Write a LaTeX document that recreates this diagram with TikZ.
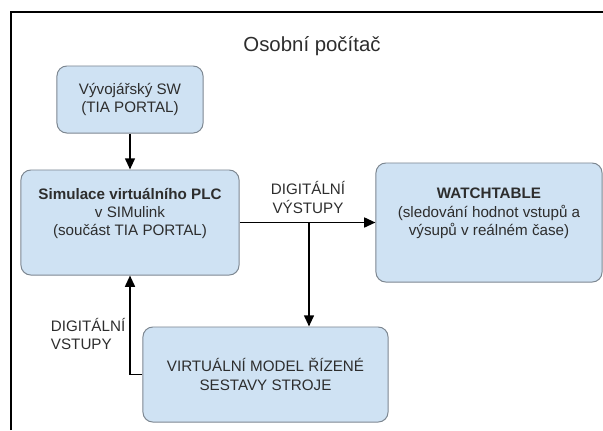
\documentclass[tikz,border=0pt]{standalone}
\usepackage{fontspec}
\setmainfont{Liberation Sans}
\usepackage{tikz}
\usetikzlibrary{arrows.meta,positioning,calc}
\definecolor{boxfill}{RGB}{207,226,243}
\definecolor{boxline}{RGB}{125,135,145}
\definecolor{txt}{RGB}{45,45,45}

\begin{document}
\begin{tikzpicture}[x=0.025cm, y=-0.025cm,
    box/.style={draw=boxline, line width=0.7pt, rounded corners=7pt, fill=boxfill, inner sep=0pt, align=center, text=txt, font=\fontsize{10.8}{13}\selectfont},
    lbl/.style={text=txt, font=\fontsize{10.8}{13}\selectfont},
    arr/.style={-{Triangle[length=8pt,width=7pt]}, line width=1.4pt}
]
\useasboundingbox (0,0) rectangle (603,430);
\draw[line width=1.5pt] (11,430) -- (11,12) -- (603,12);

\node[text=txt, font=\fontsize{14.5}{17}\selectfont] (title) at (312,46) {Osobní počítač};

\node[box, minimum width=3.65cm, minimum height=1.675cm] (dev) at (130,99.5) {Vývojářský SW\\(TIA PORTAL)};
\node[box, minimum width=5.45cm, minimum height=2.625cm, text depth=15pt] (plc) at (130,222.5) {\textbf{Simulace virtuálního PLC}\\v SIMulink\\(součást TIA PORTAL)};
\node[box, minimum width=5.65cm, minimum height=2.975cm, text depth=15pt] (watch) at (489,222.5) {\textbf{WATCHTABLE}\\(sledování hodnot vstupů a\\výsupů v reálném čase)};
\node[box, minimum width=6.125cm, minimum height=2.375cm] (model) at (265.5,374.5) {VIRTUÁLNÍ MODEL ŘÍZENÉ\\SESTAVY STROJE};

\node[lbl, align=center] (outlbl) at (308,197.5) {DIGITÁLNÍ\\VÝSTUPY};
\node[lbl, align=left, anchor=west] (inlbl) at (46,334) {DIGITÁLNÍ\\VSTUPY};

\coordinate (split) at (309,222.5);

\draw[arr] (dev) -- (plc);
\draw[arr] (plc) -- (watch);
\draw[arr] (split) -- (split |- model.north);
\draw[arr] (model.west) -| (plc.south);
\end{tikzpicture}
\end{document}
